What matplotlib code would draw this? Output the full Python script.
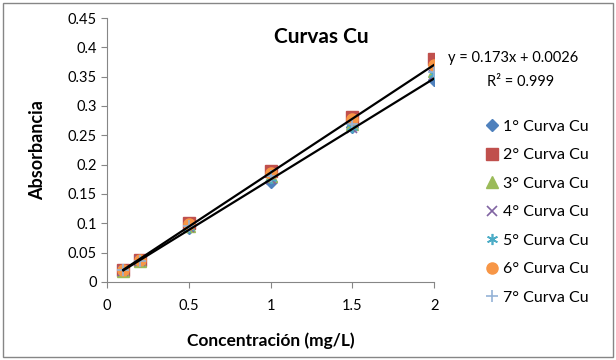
import matplotlib.pyplot as plt
import numpy as np
from matplotlib.patches import Rectangle

plt.rcParams['font.family'] = ['Lato', 'DejaVu Sans']

# Data
conc = [0.1, 0.2, 0.5, 1.0, 1.5, 2.0]
curva1 = [0.020, 0.035, 0.092, 0.171, 0.265, 0.345]
curva2 = [0.021, 0.038, 0.101, 0.190, 0.282, 0.380]
curva3 = [0.019, 0.036, 0.096, 0.180, 0.270, 0.360]
curva4 = [0.019, 0.035, 0.093, 0.176, 0.262, 0.352]
curva5 = [0.020, 0.036, 0.094, 0.178, 0.265, 0.355]
curva6 = [0.020, 0.037, 0.099, 0.185, 0.278, 0.370]
curva7 = [0.020, 0.036, 0.095, 0.180, 0.270, 0.358]
labels = ['1° Curva Cu', '2° Curva Cu', '3° Curva Cu', '4° Curva Cu',
          '5° Curva Cu', '6° Curva Cu', '7° Curva Cu']
x_ticks = [0, 0.5, 1, 1.5, 2]
x_tick_labels = ['0', '0.5', '1', '1.5', '2']
y_ticks = [0, 0.05, 0.1, 0.15, 0.2, 0.25, 0.3, 0.35, 0.4, 0.45]
y_tick_labels = ['0', '0.05', '0.1', '0.15', '0.2', '0.25', '0.3', '0.35', '0.4', '0.45']

series = [curva1, curva2, curva3, curva4, curva5, curva6, curva7]
styles = [
    dict(marker='D', color='#4F81BD', ms=6),
    dict(marker='s', color='#C0504D', ms=8),
    dict(marker='^', color='#9BBB59', ms=8),
    dict(marker='x', color='#8064A2', ms=7, mew=1.2),
    dict(marker=(6, 2, 0), color='#4BACC6', ms=8, mew=1.2),
    dict(marker='o', color='#F79646', ms=8),
    dict(marker='+', color='#95B3D7', ms=8, mew=1.2),
]

fig = plt.figure(figsize=(6.16, 3.6), dpi=100)
ax = fig.add_axes([0.1737, 0.2167, 0.531, 0.7333])

for vals, st, lab in zip(series, styles, labels):
    ax.plot(conc, vals, linestyle='none', label=lab, **st)

# linear trend lines
xs = np.array([conc[0], conc[-1]])
for vals in [curva6, curva1]:
    m, b = np.polyfit(conc, vals, 1)
    ax.plot(xs, m * xs + b, color='black', lw=1.6, zorder=5)

ax.set_xlim(0, 2)
ax.set_ylim(0, 0.45)
ax.set_xticks(x_ticks)
ax.set_xticklabels(x_tick_labels)
ax.set_yticks(y_ticks)
ax.set_yticklabels(y_tick_labels)
ax.tick_params(labelsize=10.5, color='#868686', length=4)
ax.tick_params(axis='x', pad=8)
for s in ['top', 'right']:
    ax.spines[s].set_visible(False)
for s in ['left', 'bottom']:
    ax.spines[s].set_color('#868686')

ax.set_xlabel('Concentración (mg/L)', fontsize=12.5, fontweight='bold')
ax.xaxis.set_label_coords(0.5, -0.19)
ax.set_ylabel('Absorbancia', fontsize=13, fontweight='bold')
ax.yaxis.set_label_coords(-0.187, 0.5)
fig.text(321 / 616, 1 - 37 / 360, 'Curvas Cu', ha='center', va='center',
         fontsize=15, fontweight='bold')

fig.text(0.728, 0.838, 'y = 0.173x + 0.0026', fontsize=10.5, va='center')
fig.text(0.79, 0.772, 'R² = 0.999', fontsize=10.5, va='center')

ax.legend(loc='upper left', bbox_to_anchor=(1.128, 0.64), frameon=False,
          fontsize=11.5, handletextpad=0.1, labelspacing=0.9,
          handlelength=1.2, borderaxespad=0)

fig.patches.append(Rectangle((0.005, 0.008), 0.99, 0.984, transform=fig.transFigure,
                             fill=False, edgecolor='#868686', lw=1))

fig.savefig('out.png', dpi=100)
